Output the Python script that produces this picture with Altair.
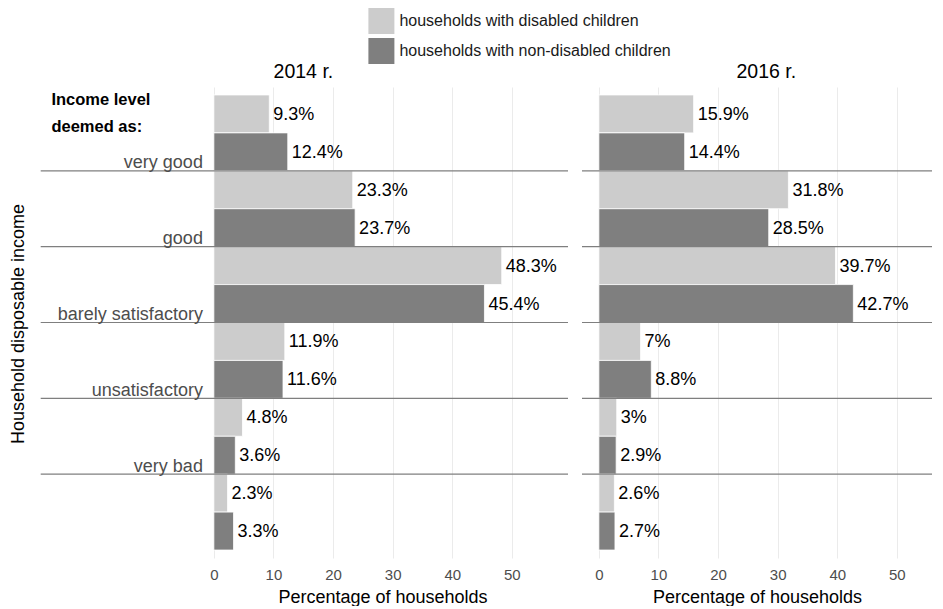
import altair as alt
import pandas as pd

categories = ["very good", "good", "barely satisfactory", "unsatisfactory", "very bad", "hard to say"]
category_labels = ["very good", "good", "barely satisfactory", "unsatisfactory", "very bad", ""]
groups = ["households with disabled children", "households with non-disabled children"]
years = ["2014 r.", "2016 r."]
disabled_2014 = [9.3, 23.3, 48.3, 11.9, 4.8, 2.3]
nondisabled_2014 = [12.4, 23.7, 45.4, 11.6, 3.6, 3.3]
disabled_2016 = [15.9, 31.8, 39.7, 7.0, 3.0, 2.6]
nondisabled_2016 = [14.4, 28.5, 42.7, 8.8, 2.9, 2.7]
tick_values = [0, 10, 20, 30, 40, 50]
colors = ["#cccccc", "#7f7f7f"]

x_title = "Percentage of households"
y_title = "Household disposable income"
note_lines = ["Income level", "deemed as:"]

FONT = "Liberation Sans"
H = 471
W1 = 371
W2 = 350
PX_PER_UNIT = 5.96
X0 = -2.83


def make_df(dis, non):
    rows = []
    for c, a, b in zip(categories, dis, non):
        rows.append({"category": c, "group": groups[0], "value": a, "label": f"{a:g}%"})
        rows.append({"category": c, "group": groups[1], "value": b, "label": f"{b:g}%"})
    return pd.DataFrame(rows)


def panel(df, year, width, legend, left_decor, title_x):
    domain = [X0, X0 + width / PX_PER_UNIT]
    xenc = alt.X(
        "value:Q",
        scale=alt.Scale(domain=domain, nice=False, zero=False),
        axis=alt.Axis(
            values=tick_values, grid=True, gridColor="#ebebeb", gridWidth=1,
            domain=False, ticks=False, labelFontSize=15, labelColor="#4d4d4d",
            labelPadding=9, labelFont=FONT, title=x_title, titleFontSize=18,
            titleFontWeight="normal", titleColor="black", titlePadding=6,
            titleFont=FONT,
        ),
    )
    yenc = alt.Y(
        "category:N", sort=categories,
        scale=alt.Scale(domain=categories, paddingInner=0, paddingOuter=0.105),
        axis=None,
    )
    yoff = alt.YOffset(
        "group:N", sort=groups,
        scale=alt.Scale(domain=groups, paddingInner=0, paddingOuter=0),
    )
    base = alt.Chart(df)
    bars = base.mark_bar(stroke="white", strokeWidth=0.8).encode(
        x=xenc, x2=alt.X2(datum=0), y=yenc, yOffset=yoff,
        color=alt.Color("group:N", scale=alt.Scale(domain=groups, range=colors), legend=legend),
    )
    labels = base.mark_text(
        align="left", baseline="middle", dx=4, dy=1, fontSize=18, color="black", font=FONT
    ).encode(x=alt.X("value:Q"), y=yenc, yOffset=yoff, text="label:N")

    sep_df = pd.DataFrame({"category": categories[:-1]})
    x_start = -156.3 if left_decor else 0
    rules = alt.Chart(sep_df).mark_rule(color="#7f7f7f", strokeWidth=1.2).encode(
        y=alt.Y("category:N", sort=categories, bandPosition=1),
        x=alt.value(x_start), x2=alt.value(width),
    )
    title = alt.Chart(pd.DataFrame({"t": [year]})).mark_text(
        fontSize=19.5, align="center", baseline="alphabetic", color="black", font=FONT
    ).encode(x=alt.value(title_x), y=alt.value(-9), text="t:N")

    layers = [bars, labels, rules, title]
    if left_decor:
        lab_df = pd.DataFrame({"category": categories, "label": category_labels})
        catlab = alt.Chart(lab_df).mark_text(
            align="right", baseline="alphabetic", dy=-2.5, fontSize=18,
            color="#4d4d4d", font=FONT
        ).encode(
            y=alt.Y("category:N", sort=categories, bandPosition=1),
            x=alt.value(5.9), text="label:N",
        )
        ytit = alt.Chart(pd.DataFrame({"t": [y_title]})).mark_text(
            angle=270, align="center", baseline="middle", fontSize=18,
            color="black", font=FONT
        ).encode(x=alt.value(-178), y=alt.value(237), text="t:N")
        note = alt.Chart(pd.DataFrame({"t": [0]})).mark_text(
            text=note_lines, lineHeight=26.7, align="left", baseline="alphabetic",
            fontWeight="bold", fontSize=16.5, color="black", font=FONT
        ).encode(x=alt.value(-145.6), y=alt.value(18))
        layers += [catlab, ytit, note]
    return alt.layer(*layers).properties(width=width, height=H)


legend = alt.Legend(
    orient="none", legendX=171.4, legendY=-79, title=None, symbolType="square",
    symbolSize=676, symbolStrokeWidth=0, symbolOpacity=1, labelFontSize=16,
    labelOffset=5, rowPadding=4, padding=0, labelColor="#1a1a1a", labelFont=FONT,
    labelLimit=400,
)

p1 = panel(make_df(disabled_2014, nondisabled_2014), years[0], W1, legend, True, 106.4)
p2 = panel(make_df(disabled_2016, nondisabled_2016), years[1], W2, None, False, 184.3)

chart = (
    alt.hconcat(p1, p2, spacing=14, bounds="flush")
    .resolve_legend(color="independent")
    .properties(padding={"left": 2, "top": 0, "right": 0, "bottom": 0})
    .configure(font=FONT)
    .configure_view(strokeWidth=0, stroke="transparent")
)

chart.save("out.html", embed_options={"renderer": "svg", "actions": False})
